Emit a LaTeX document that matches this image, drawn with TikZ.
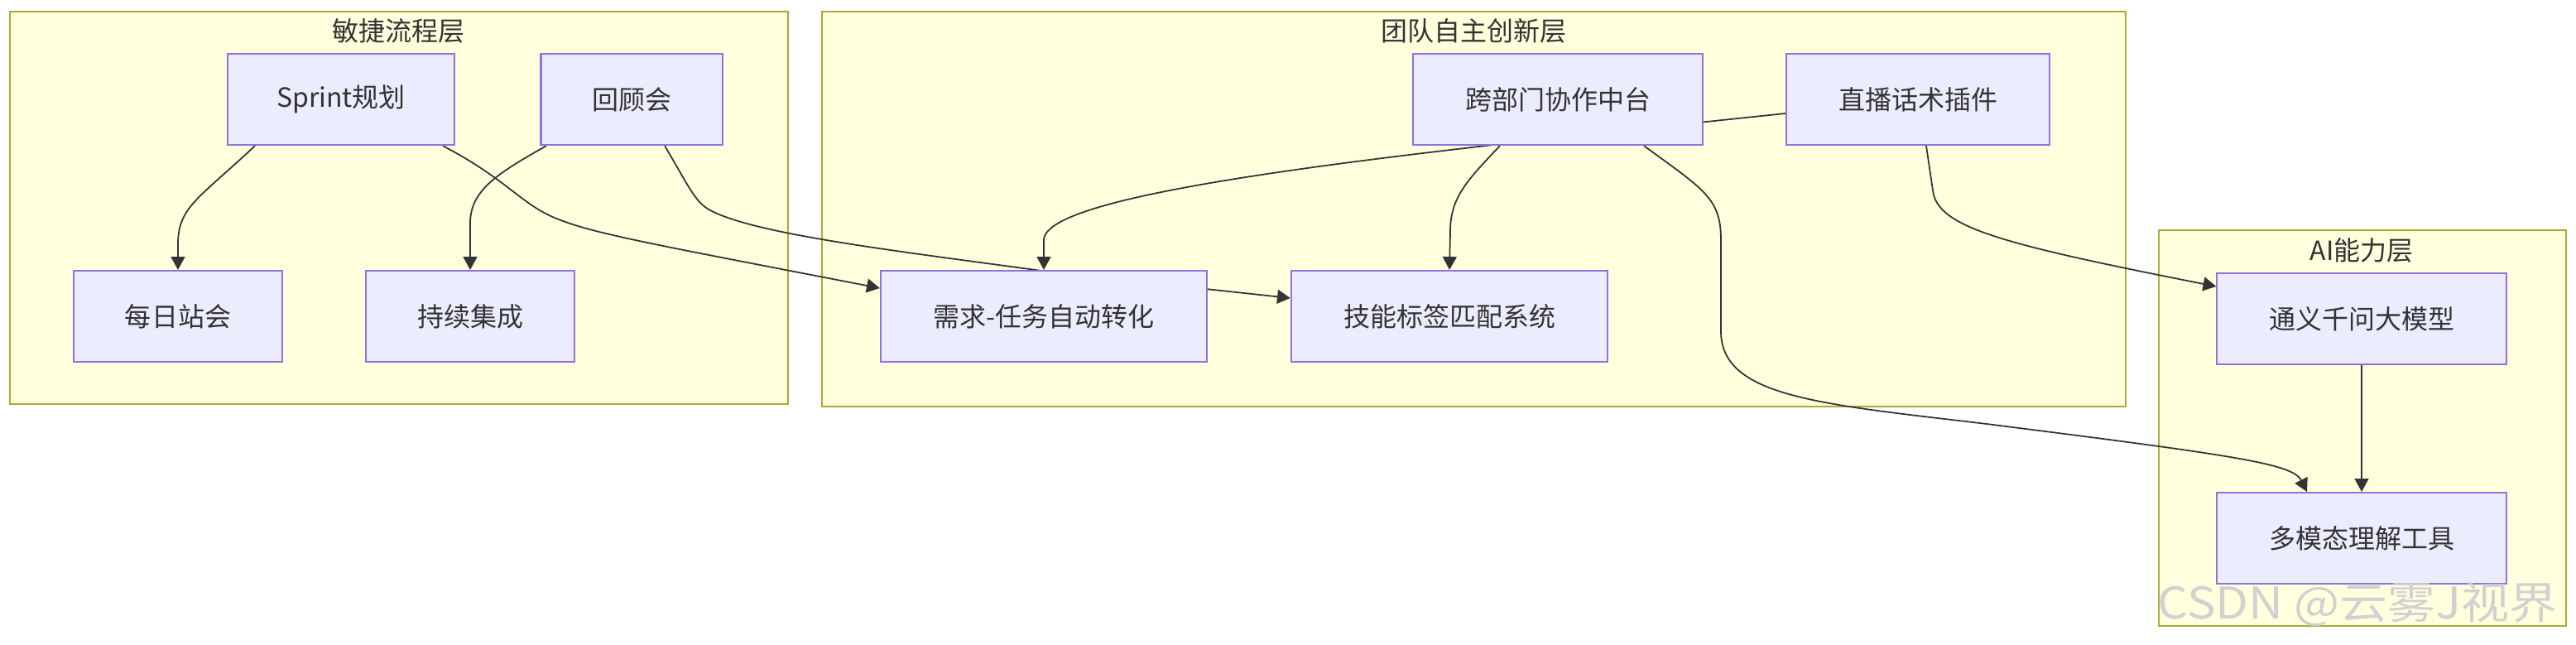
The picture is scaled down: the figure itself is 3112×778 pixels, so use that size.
\documentclass[tikz,border=0pt]{standalone}
\usepackage{fontspec}
\setmainfont{Noto Sans CJK SC}
\usetikzlibrary{arrows.meta,calc}
\definecolor{layerfill}{HTML}{FFFFDE}
\definecolor{layerline}{HTML}{AAAA33}
\definecolor{stepfill}{HTML}{ECECFF}
\definecolor{stepline}{HTML}{9370DB}
\definecolor{linkline}{HTML}{333333}
\pgfdeclarelayer{back}
\pgfdeclarelayer{links}
\pgfsetlayers{back,links,main}
\tikzset{
	stepbox/.style={draw=stepline, fill=stepfill, line width=0.6pt, minimum height=1.1cm, inner sep=0pt, text=linkline, font=\fontsize{9.1}{11}\selectfont},
	layerbox/.style={draw=layerline, fill=layerfill, line width=0.6pt},
	layername/.style={text=linkline, font=\fontsize{9.1}{11}\selectfont},
	link/.style={draw=linkline, line width=0.5pt, -{Triangle[length=4.5pt,width=4.8pt]}},
}

\begin{document}
\begin{tikzpicture}[x=0.01cm, y=-0.01cm]
			%%%%% START %%%%%
			\useasboundingbox (0, 0) rectangle (3112, 778);
			
			% layers
			\begin{pgfonlayer}{back}
			\draw[layerbox] (12, 14) rectangle (952, 488);
			\draw[layerbox] (993, 14) rectangle (2568, 491);
			\draw[layerbox] (2608, 278) rectangle (3100, 756);
			\end{pgfonlayer}
			\node[layername] (agiletitle) at (481, 37) {敏捷流程层};
			\node[layername] (teamtitle) at (1780, 37) {团队自主创新层};
			\node[layername] (aititle) at (2853, 302) {AI能力层};
			
			% steps
			\node[stepbox, minimum width=2.74cm] (sprint) at (412, 120) {Sprint规划};
			\node[stepbox, minimum width=2.19cm] (review) at (763, 120) {回顾会};
			\node[stepbox, minimum width=2.52cm] (daily) at (215, 382) {每日站会};
			\node[stepbox, minimum width=2.51cm] (ci) at (568, 382) {持续集成};
			\node[stepbox, minimum width=3.50cm] (hub) at (1882, 120) {跨部门协作中台};
			\node[stepbox, minimum width=3.18cm] (live) at (2317, 120) {直播话术插件};
			\node[stepbox, minimum width=3.94cm] (convert) at (1261, 382) {需求-任务自动转化};
			\node[stepbox, minimum width=3.82cm] (skill) at (1751, 382) {技能标签匹配系统};
			\node[stepbox, minimum width=3.49cm] (qwen) at (2853, 385) {通义千问大模型};
			\node[stepbox, minimum width=3.49cm] (multi) at (2853, 650) {多模态理解工具};
			
			% links
			\begin{pgfonlayer}{links}
			\draw[link] ($(sprint.south)+(-104,0)$) .. controls (240, 240) and (215, 250) .. (215, 295) -- (daily.north);
			\draw[link] ($(sprint.south)+(123,0)$) .. controls (615, 218) and (630, 248) .. (675, 265) .. controls (720, 283) and (800, 297) .. ($(convert.west)+(0,-34)$);
			\draw[link] ($(review.south)+(-103,0)$) .. controls (600, 210) and (568, 230) .. (568, 270) -- (ci.north);
			\draw[link] ($(review.south)+(40,0)$) .. controls (835, 230) and (840, 245) .. (860, 255) .. controls (920, 285) and (1100, 305) .. (1280, 330) -- ($(skill.west)+(0,-22)$);
			\draw[link] ($(live.west)+(0,17)$) .. controls (1700, 185) and (1261, 230) .. (1261, 290) -- (convert.north);
			\draw[link] ($(hub.south)+(-70,0)$) .. controls (1770, 220) and (1752, 240) .. (1752, 280) -- (skill.north);
			\draw[link] ($(hub.south)+(104,0)$) .. controls (2060, 230) and (2079, 240) .. (2079, 290) -- (2079, 400) .. controls (2079, 480) and (2200, 488) .. (2400, 512) .. controls (2700, 550) and (2770, 560) .. ($(multi.north)+(-66,0)$);
			\draw[link] ($(live.south)+(10,0)$) -- (2335, 230) .. controls (2340, 275) and (2420, 295) .. ($(qwen.west)+(0,-39)$);
			\draw[link] (qwen.south) -- (multi.north);
			\end{pgfonlayer}
			
			\node[text=black!18, font=\fontsize{15}{17}\selectfont, xscale=1.1] (mark) at (2848, 730) {CSDN @云雾J视界};
			%%%%% END %%%%%
\end{tikzpicture}
\end{document}
